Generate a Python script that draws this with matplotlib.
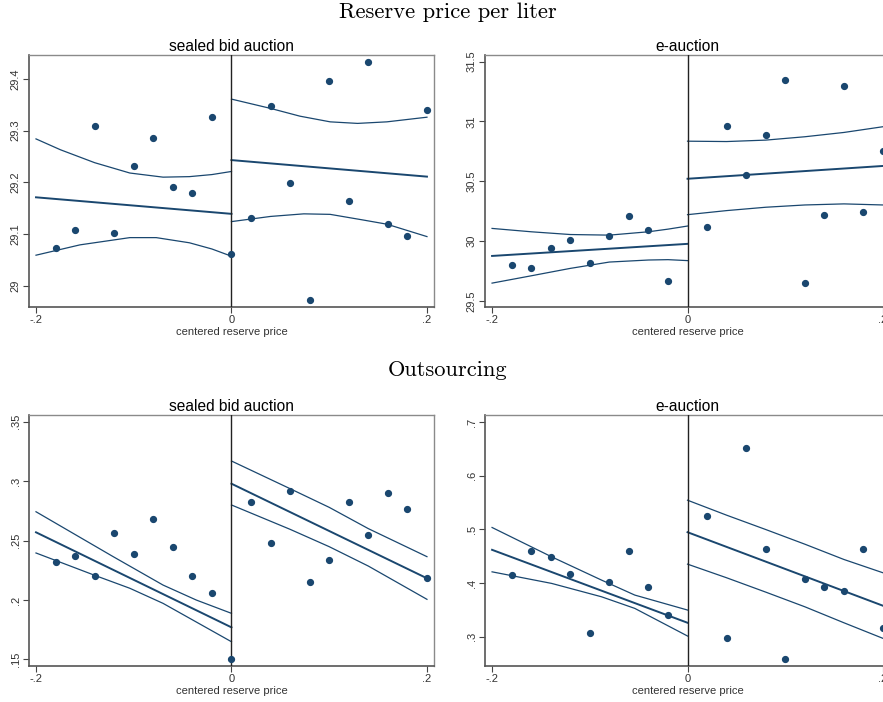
import matplotlib
matplotlib.use("Agg")
import matplotlib.pyplot as plt

# bin centres of the centered reserve price
x_left = [-0.18, -0.16, -0.14, -0.12, -0.10, -0.08, -0.06, -0.04, -0.02, 0.0]
x_right = [0.02, 0.04, 0.06, 0.08, 0.10, 0.12, 0.14, 0.16, 0.18, 0.20]
x_e_left = [-0.18, -0.16, -0.14, -0.12, -0.10, -0.08, -0.06, -0.04, -0.02]

# --- reserve price per liter, sealed bid
rp_sb_left = [29.073, 29.107, 29.308, 29.102, 29.232, 29.285, 29.190, 29.179, 29.327, 29.061]
rp_sb_right = [29.130, 29.347, 29.198, 28.973, 29.396, 29.163, 29.432, 29.119, 29.096, 29.340]
rp_sb_fit_l = [29.171, 29.139]
rp_sb_fit_r = [29.243, 29.211]
rp_sb_hi_xl = [-0.2, -0.175, -0.14, -0.104, -0.07, -0.043, -0.02, 0.0]
rp_sb_hi_l = [29.284, 29.263, 29.238, 29.218, 29.210, 29.211, 29.215, 29.221]
rp_sb_lo_xl = [-0.2, -0.155, -0.104, -0.077, -0.043, -0.02, 0.0]
rp_sb_lo_l = [29.059, 29.079, 29.093, 29.093, 29.083, 29.071, 29.057]
rp_sb_hi_xr = [0.0, 0.04, 0.07, 0.101, 0.129, 0.159, 0.2]
rp_sb_hi_r = [29.361, 29.343, 29.328, 29.317, 29.314, 29.317, 29.326]
rp_sb_lo_xr = [0.0, 0.04, 0.074, 0.101, 0.135, 0.159, 0.2]
rp_sb_lo_r = [29.124, 29.134, 29.139, 29.138, 29.127, 29.119, 29.095]

# --- reserve price per liter, e-auction
rp_e_left = [29.800, 29.772, 29.946, 30.008, 29.814, 30.039, 30.210, 30.092, 29.668]
rp_e_right = [30.117, 30.961, 30.549, 30.888, 31.349, 29.649, 30.215, 31.295, 30.241, 30.751]
rp_e_fit_l = [29.876, 29.977]
rp_e_fit_r = [30.521, 30.628]
rp_e_xl = [-0.2, -0.16, -0.12, -0.08, -0.04, -0.02, 0.0]
rp_e_hi_l = [30.106, 30.078, 30.055, 30.050, 30.078, 30.100, 30.126]
rp_e_lo_l = [29.649, 29.710, 29.772, 29.825, 29.842, 29.845, 29.837]
rp_e_xr = [0.0, 0.04, 0.08, 0.12, 0.16, 0.2]
rp_e_hi_r = [30.835, 30.832, 30.844, 30.872, 30.908, 30.956]
rp_e_lo_r = [30.221, 30.255, 30.283, 30.302, 30.311, 30.302]

# --- outsourcing, sealed bid
os_sb_left = [0.2316, 0.2372, 0.2201, 0.2563, 0.2389, 0.2678, 0.2445, 0.2201, 0.2055, 0.1506]
os_sb_right = [0.2821, 0.2479, 0.2914, 0.2154, 0.2339, 0.2824, 0.2549, 0.2897, 0.2765, 0.2184]
os_sb_fit_l = [0.2569, 0.1769]
os_sb_fit_r = [0.2978, 0.2182]
os_sb_hi_xl = [-0.2, -0.121, -0.07, -0.036, 0.0]
os_sb_hi_l = [0.2742, 0.2364, 0.2125, 0.1999, 0.1887]
os_sb_lo_xl = [-0.2, -0.138, -0.104, -0.07, 0.0]
os_sb_lo_l = [0.2395, 0.2201, 0.2098, 0.1971, 0.1648]
os_sb_xr = [0.0, 0.06, 0.10, 0.14, 0.2]
os_sb_hi_r = [0.3169, 0.2936, 0.2779, 0.2600, 0.2364]
os_sb_lo_r = [0.2799, 0.2594, 0.2448, 0.2285, 0.2005]

# --- outsourcing, e-auction
os_e_left = [0.4147, 0.4600, 0.4482, 0.4172, 0.3074, 0.4011, 0.4600, 0.3930, 0.3409]
os_e_right = [0.5251, 0.2975, 0.6510, 0.4643, 0.2584, 0.4079, 0.3930, 0.3850, 0.4631, 0.3161]
os_e_fit_l = [0.4619, 0.3260]
os_e_fit_r = [0.4947, 0.3577]
os_e_xl = [-0.2, -0.139, -0.088, -0.054, 0.0]
os_e_hi_l = [0.5035, 0.4488, 0.4055, 0.3776, 0.3497]
os_e_lo_l = [0.4209, 0.3993, 0.3744, 0.3528, 0.3013]
os_e_xr = [0.0, 0.04, 0.08, 0.12, 0.16, 0.2]
os_e_hi_r = [0.5543, 0.5264, 0.4997, 0.4724, 0.4439, 0.4191]
os_e_lo_r = [0.4352, 0.4098, 0.3831, 0.3558, 0.3260, 0.2969]

yt_rp_sb = [29, 29.1, 29.2, 29.3, 29.4]
yt_rp_e = [29.5, 30, 30.5, 31, 31.5]
yt_os_sb = [0.15, 0.2, 0.25, 0.3, 0.35]
yt_os_e = [0.3, 0.4, 0.5, 0.6, 0.7]

NAVY = "#1a476f"
plt.rcParams["font.family"] = ["Liberation Sans", "DejaVu Sans"]

fig = plt.figure(figsize=(8.83, 7.02), dpi=100)


def lbl(v):
    s = ("%g" % v)
    if s.startswith("0."):
        s = s[1:]
    return s


def panel(rect, title, ylim, yticks, pts, fits, cis):
    ax = fig.add_axes(rect)
    ax.set_xlim(-0.2072, 0.2072)
    ax.set_ylim(*ylim)
    for xs, ys in pts:
        ax.plot(xs, ys, "o", color=NAVY, ms=4.2, zorder=4)
    ax.plot([-0.2, 0.0], fits[0], color=NAVY, lw=1.4)
    ax.plot([0.0, 0.2], fits[1], color=NAVY, lw=1.4)
    for xs, ys in cis:
        ax.plot(xs, ys, color=NAVY, lw=0.9)
    ax.axvline(0, color="#222222", lw=1.0, zorder=3)
    ax.set_xticks([-0.2, 0, 0.2])
    ax.set_xticklabels(["-.2", "0", ".2"])
    ax.set_yticks(yticks)
    ax.set_yticklabels([lbl(v) for v in yticks], rotation=90, va="center")
    ax.tick_params(labelsize=8, length=4, width=0.8, color="#444444",
                   labelcolor="#333333", pad=2)
    for side in ("top", "right"):
        ax.spines[side].set_color("#8a8a8a")
        ax.spines[side].set_linewidth(1.0)
    for side in ("left", "bottom"):
        ax.spines[side].set_color("#555555")
        ax.spines[side].set_linewidth(1.2)
    ax.set_title(title, fontsize=11.2, pad=3)
    ax.set_xlabel("centered reserve price", fontsize=8, color="#333333", labelpad=1)
    return ax


w = 0.4587
panel([0.0328, 0.5627, w, 0.359], "sealed bid auction", (28.9588, 29.4464), yt_rp_sb,
      [(x_left, rp_sb_left), (x_right, rp_sb_right)], (rp_sb_fit_l, rp_sb_fit_r),
      [(rp_sb_hi_xl, rp_sb_hi_l), (rp_sb_lo_xl, rp_sb_lo_l),
       (rp_sb_hi_xr, rp_sb_hi_r), (rp_sb_lo_xr, rp_sb_lo_r)])
panel([0.5493, 0.5627, w, 0.359], "e-auction", (29.4495, 31.5555), yt_rp_e,
      [(x_e_left, rp_e_left), (x_right, rp_e_right)], (rp_e_fit_l, rp_e_fit_r),
      [(rp_e_xl, rp_e_hi_l), (rp_e_xl, rp_e_lo_l),
       (rp_e_xr, rp_e_hi_r), (rp_e_xr, rp_e_lo_r)])
panel([0.0328, 0.0513, w, 0.3575], "sealed bid auction", (0.1444, 0.3556), yt_os_sb,
      [(x_left, os_sb_left), (x_right, os_sb_right)], (os_sb_fit_l, os_sb_fit_r),
      [(os_sb_hi_xl, os_sb_hi_l), (os_sb_lo_xl, os_sb_lo_l),
       (os_sb_xr, os_sb_hi_r), (os_sb_xr, os_sb_lo_r)])
panel([0.5493, 0.0513, w, 0.3575], "e-auction", (0.2455, 0.713), yt_os_e,
      [(x_e_left, os_e_left), (x_right, os_e_right)], (os_e_fit_l, os_e_fit_r),
      [(os_e_xl, os_e_hi_l), (os_e_xl, os_e_lo_l),
       (os_e_xr, os_e_hi_r), (os_e_xr, os_e_lo_r)])

fig.text(0.507, 0.983, "Reserve price per liter", family="cmr10", fontsize=16.2,
         ha="center", va="center")
fig.text(0.507, 0.473, "Outsourcing", family="cmr10", fontsize=16.2,
         ha="center", va="center")

fig.savefig("out.png", dpi=100)
